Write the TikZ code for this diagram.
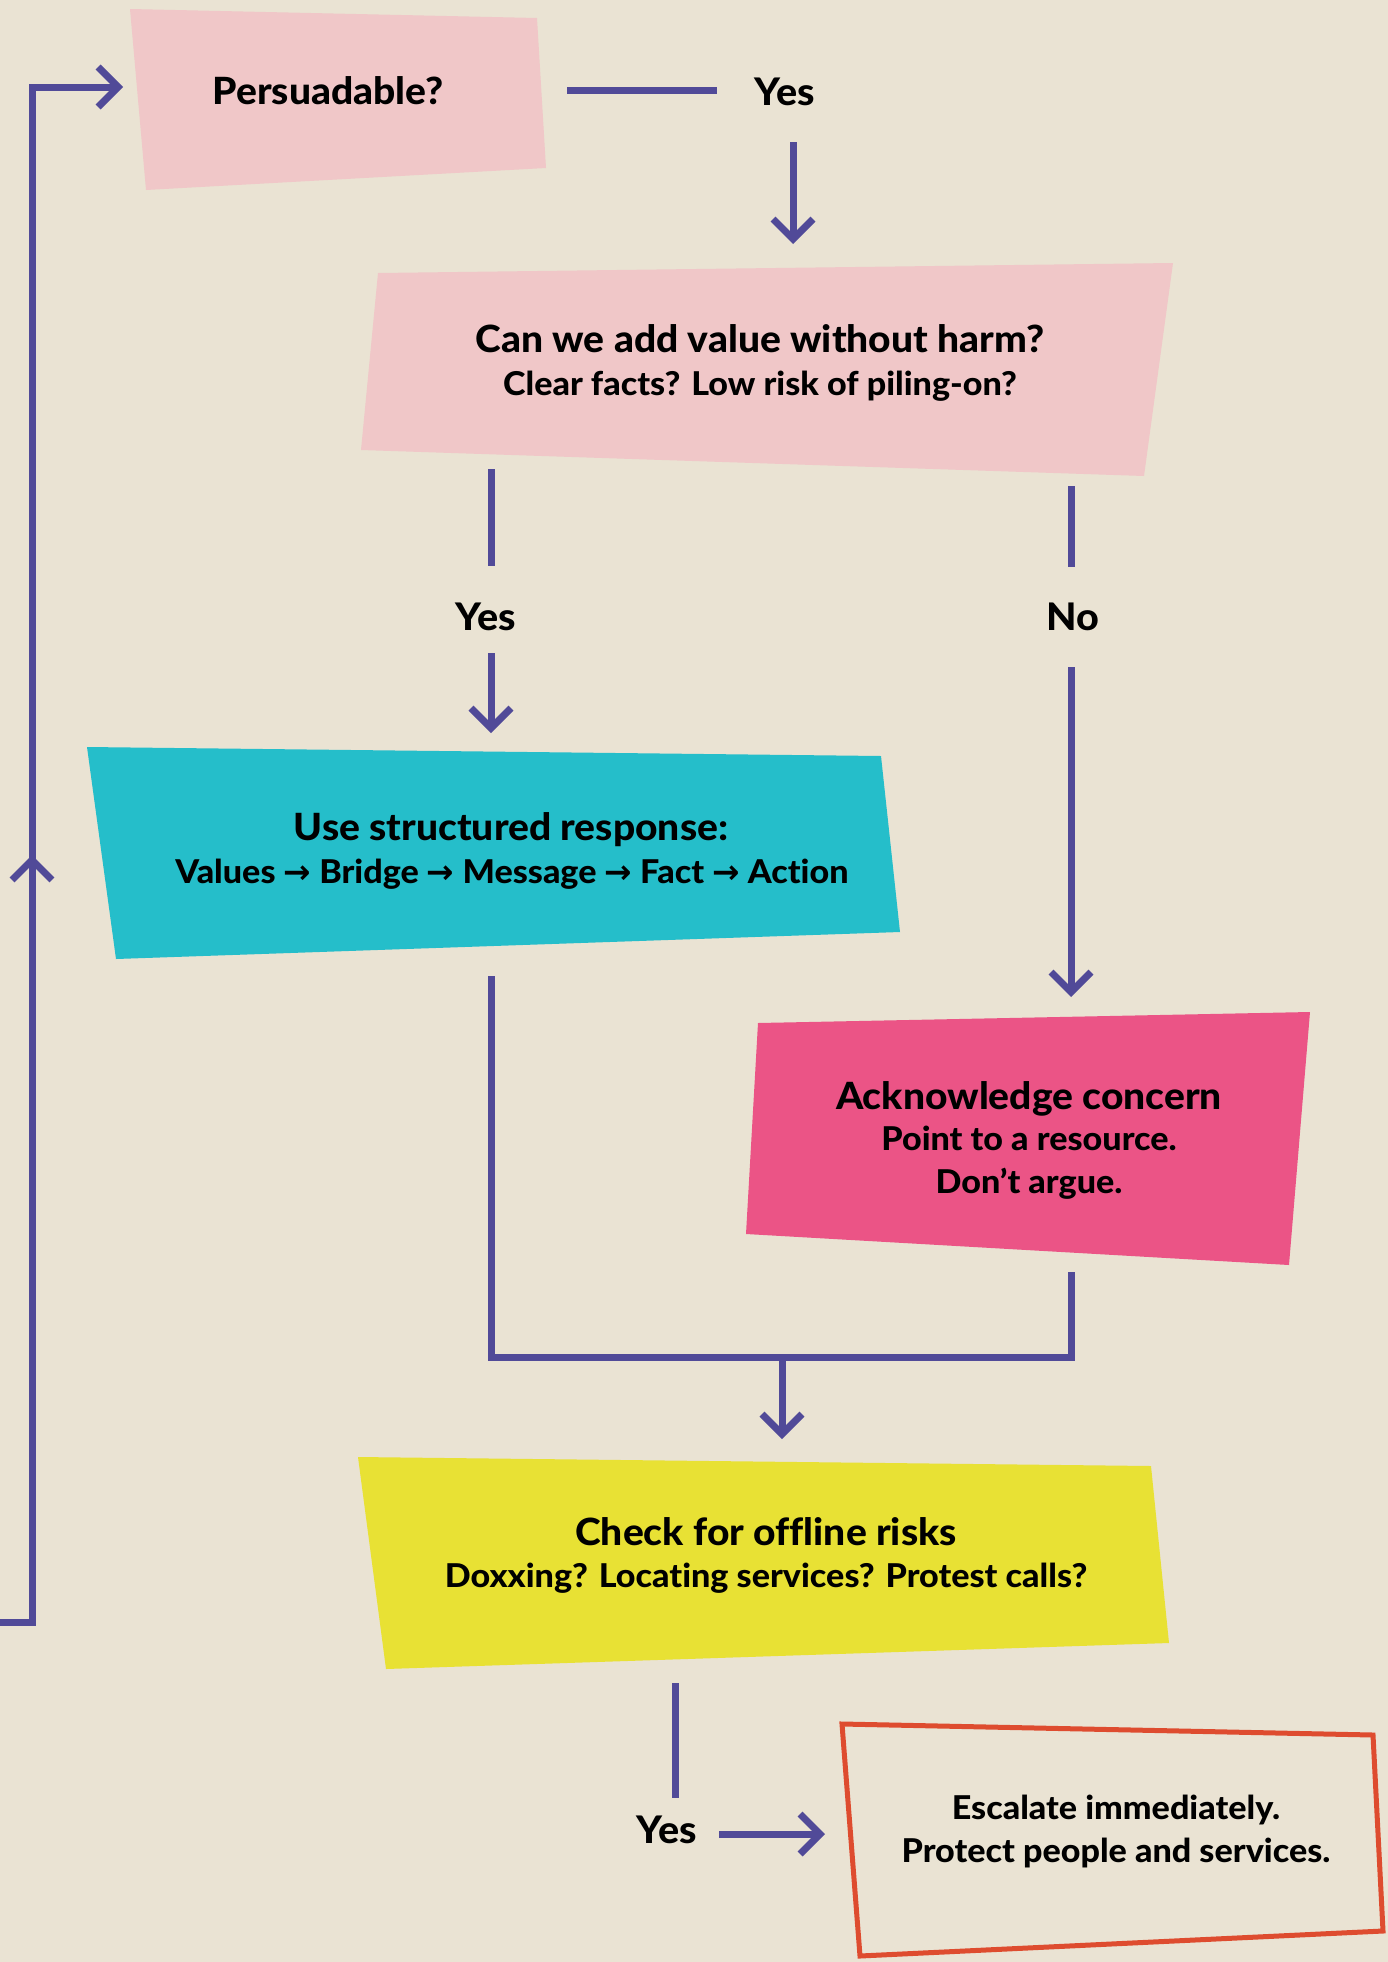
\documentclass[tikz,border=0pt]{standalone}
\usepackage{fontspec}
\setmainfont{Lato}[BoldFont={Lato Heavy},FakeStretch=1.04,Ligatures=NoCommon]
\newfontfamily\arrowfont{DejaVu Sans}
\usetikzlibrary{arrows.meta}
\definecolor{bg}{HTML}{EAE3D3}
\definecolor{purp}{HTML}{514A98}
\definecolor{pinkL}{HTML}{F0C7C8}
\definecolor{cyanB}{HTML}{25BECA}
\definecolor{pinkH}{HTML}{EB5486}
\definecolor{yell}{HTML}{E8E134}
\definecolor{orng}{HTML}{DE4C2F}
\newcommand\myarr{{\arrowfont\bfseries →}}
\begin{document}
\begin{tikzpicture}[x=1pt,y=-1pt,
  ln/.style={line width=7pt, draw=purp},
  arw/.style={ln, -{Straight Barb[length=20pt,width=40pt]}},
  ttl/.style={inner sep=0pt, anchor=base, font=\bfseries\fontsize{37.5}{40}\selectfont},
  lbl/.style={inner sep=0pt, anchor=base, font=\bfseries\fontsize{38}{40}\selectfont},
  sub/.style={inner sep=0pt, anchor=base, font=\bfseries\fontsize{32.8}{36}\selectfont}]
\useasboundingbox (0,0) rectangle (1388,1962);
\fill[bg] (0,0) rectangle (1388,1962);
% boxes
\fill[pinkL] (130,9) -- (537,18) -- (546,168) -- (146,190) -- cycle;
\fill[pinkL] (378,273) -- (1173,263) -- (1144,476) -- (361,450) -- cycle;
\fill[cyanB] (87,747) -- (881,756) -- (900,932) -- (116,959) -- cycle;
\fill[pinkH] (758,1023) -- (1310,1012) -- (1289,1265) -- (746,1234) -- cycle;
\fill[yell] (358,1457) -- (1151,1466) -- (1169,1643) -- (386,1669) -- cycle;
\draw[orng, line width=5pt] (842,1724) -- (1373,1735) -- (1383,1931) -- (860,1956) -- cycle;
% texts
\node[ttl] (p1) at (328,104) {Persuadable?};
\node[lbl] (y1) at (785,105) {Yes};
\node[ttl] (q2a) at (760,352) {Can we add value without harm?};
\node[sub] (q2b) at (760,395) {Clear facts? Low risk of piling-on?};
\node[lbl] (y2) at (486,630) {Yes};
\node[lbl] (n2) at (1073,630) {No};
\node[ttl] (sra) at (511,840) {Use structured response:};
\node[sub] (srb) at (512,883) {Values \myarr{} Bridge \myarr{} Message \myarr{} Fact \myarr{} Action};
\node[ttl] (acka) at (1029,1109) {Acknowledge concern};
\node[sub] (ackb) at (1029,1150) {Point to a resource.};
\node[sub] (ackc) at (1029,1193) {Don’t argue.};
\node[ttl] (chka) at (766,1545) {Check for offline risks};
\node[sub] (chkb) at (766,1587) {Doxxing? Locating services? Protest calls?};
\node[lbl] (y3) at (667,1843) {Yes};
\node[sub] (esca) at (1116,1819) {Escalate immediately.};
\node[sub] (escb) at (1116,1862) {Protect people and services.};
% connector end points
\coordinate (p1out) at (567,90);
\coordinate (y1in) at (717,90);
\coordinate (y1out) at (793,142);
\coordinate (q2in) at (793,244);
\coordinate (q2yes) at (491,469);
\coordinate (y2in) at (491,566);
\coordinate (y2out) at (491,653);
\coordinate (srin) at (491,733);
\coordinate (q2no) at (1071,486);
\coordinate (n2in) at (1071,567);
\coordinate (n2out) at (1071,667);
\coordinate (ackin) at (1071,997);
\coordinate (srout) at (491,976);
\coordinate (ackout) at (1071,1272);
\coordinate (mergeL) at (491,1357);
\coordinate (mergeR) at (1071,1357);
\coordinate (mergeM) at (782,1357);
\coordinate (chkin) at (782,1439);
\coordinate (chkout) at (675,1683);
\coordinate (y3in) at (675,1798);
\coordinate (y3out) at (719,1834);
\coordinate (escin) at (825,1834);
\coordinate (loopstart) at (0,1622);
\coordinate (loopB) at (32,1622);
\coordinate (loopT) at (32,87);
\coordinate (p1in) at (123,87);
\coordinate (loopmidA) at (32,885);
\coordinate (loopmidB) at (32,855);
% connectors
\draw[ln] (p1out) -- (y1in);
\draw[arw] (y1out) -- (q2in);
\draw[ln] (q2yes) -- (y2in);
\draw[arw] (y2out) -- (srin);
\draw[ln] (q2no) -- (n2in);
\draw[arw] (n2out) -- (ackin);
\draw[ln] (srout) -- (mergeL) -- (mergeR) -- (ackout);
\draw[arw] (mergeM) -- (chkin);
\draw[ln] (chkout) -- (y3in);
\draw[arw] (y3out) -- (escin);
\draw[arw] (loopstart) -- (loopB) -- (loopT) -- (p1in);
\draw[arw] (loopmidA) -- (loopmidB);
\end{tikzpicture}
\end{document}
